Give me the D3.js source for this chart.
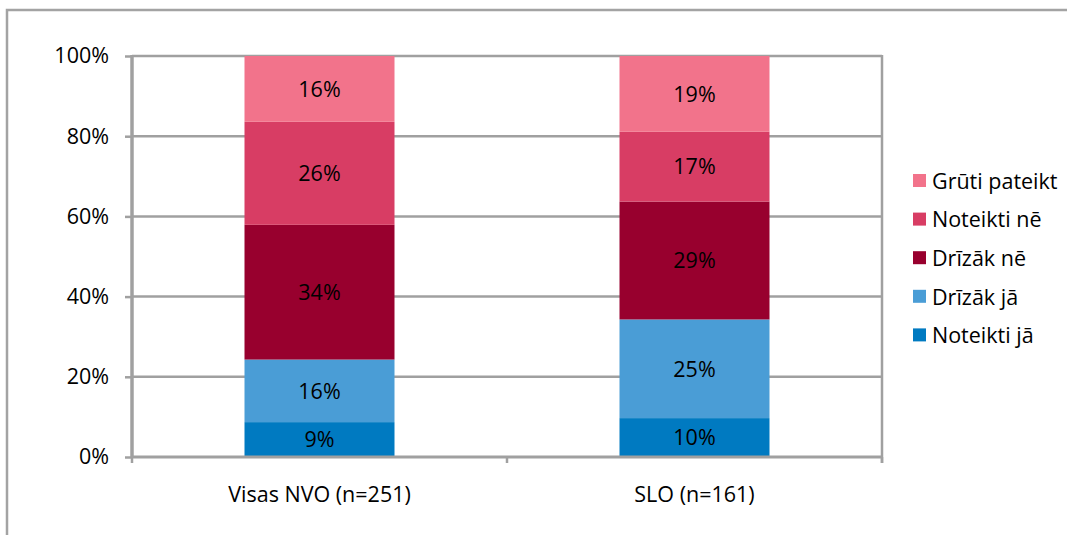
<!DOCTYPE html>
<html>
<head>
<meta charset="utf-8">
<script src="https://cdn.jsdelivr.net/npm/d3@7"></script>
<style>
  body { margin: 0; background: #fff; }
  svg text { font-family: "Open Sans", "Noto Sans", sans-serif; fill: #000; }
</style>
</head>
<body>
<div id="chart"></div>
<script>
// categories and series (percent, bottom to top)
var categories = ['Visas NVO (n=251)', 'SLO (n=161)'];
var seriesNames = ['Noteikti jā', 'Drīzāk jā', 'Drīzāk nē', 'Noteikti nē', 'Grūti pateikt'];
var noteiktiJa = [8.7, 9.7];
var drizakJa = [15.6, 24.6];
var drizakNe = [33.6, 29.4];
var noteiktiNe = [25.7, 17.4];
var grutiPateikt = [16.4, 18.9];
var yTicks = [0, 20, 40, 60, 80, 100];

var colors = ['#007ac1', '#4a9dd6', '#98002e', '#d83d64', '#f2738b'];
var seriesValues = [noteiktiJa, drizakJa, drizakNe, noteiktiNe, grutiPateikt];

var width = 1067,
    height = 535,
    plotLeft = 132, plotRight = 882, plotTop = 56, plotBottom = 457,
    fontSize = '21.5px';

var svg = d3.select('#chart').append('svg')
    .attr('width', width)
    .attr('height', height);

// outer chart frame (runs off the right and bottom edge)
svg.append('rect')
    .attr('x', 7).attr('y', 10)
    .attr('width', 1080).attr('height', 540)
    .attr('fill', 'none')
    .attr('stroke', '#a3a3a3')
    .attr('stroke-width', 2.5);

var x = d3.scaleBand()
    .domain(categories)
    .range([plotLeft, plotRight])
    .paddingInner(0.6)
    .paddingOuter(0.3);

var y = d3.scaleLinear()
    .domain([0, 100])
    .range([plotBottom, plotTop]);

// gridlines
svg.append('g')
    .selectAll('line')
    .data(yTicks.filter(function(d) { return d > 0; }))
    .enter()
    .append('line')
    .attr('x1', plotLeft).attr('x2', plotRight)
    .attr('y1', function(d) { return y(d); })
    .attr('y2', function(d) { return y(d); })
    .attr('stroke', '#a0a0a0')
    .attr('stroke-width', 2.5);

// right border of plot area
svg.append('line')
    .attr('x1', plotRight).attr('x2', plotRight)
    .attr('y1', plotTop - 1).attr('y2', plotBottom + 6)
    .attr('stroke', '#a0a0a0')
    .attr('stroke-width', 2.5);

// stacked data
var rows = categories.map(function(c, i) {
    var r = { cat: c };
    seriesNames.forEach(function(s, k) { r[s] = seriesValues[k][i]; });
    return r;
});
var stacked = d3.stack().keys(seriesNames)(rows);

var layers = svg.append('g')
    .selectAll('g')
    .data(stacked)
    .enter()
    .append('g')
    .attr('fill', function(d, i) { return colors[i]; });

layers.selectAll('rect')
    .data(function(d) { return d; })
    .enter()
    .append('rect')
    .attr('x', function(d) { return x(d.data.cat); })
    .attr('width', x.bandwidth())
    .attr('y', function(d) { return y(d[1]); })
    .attr('height', function(d) { return y(d[0]) - y(d[1]); });

layers.selectAll('text')
    .data(function(d) { return d; })
    .enter()
    .append('text')
    .attr('x', function(d) { return x(d.data.cat) + x.bandwidth() / 2; })
    .attr('y', function(d) { return (y(d[0]) + y(d[1])) / 2; })
    .attr('dy', '0.36em')
    .attr('text-anchor', 'middle')
    .style('font-size', fontSize)
    .text(function(d) { return Math.round(d[1] - d[0]) + '%'; });

// y axis
var yAxis = svg.append('g')
    .attr('transform', 'translate(' + plotLeft + ',0)')
    .call(d3.axisLeft(y).tickValues(yTicks).tickSize(7).tickPadding(16)
        .tickFormat(function(d) { return d + '%'; }));
yAxis.select('.domain').attr('stroke', '#a0a0a0').attr('stroke-width', 3.5)
    .attr('d', 'M0,' + (plotTop - 1) + 'V' + plotBottom);
yAxis.selectAll('.tick line').attr('stroke', '#a0a0a0').attr('stroke-width', 2.5);
yAxis.selectAll('.tick text').style('font-size', fontSize).attr('fill', '#000');

// x axis
var xAxis = svg.append('g')
    .attr('transform', 'translate(0,' + plotBottom + ')')
    .call(d3.axisBottom(x).tickSize(0).tickPadding(30));
xAxis.select('.domain').attr('stroke', '#a0a0a0').attr('stroke-width', 3)
    .attr('d', 'M' + plotLeft + ',0H' + plotRight);
xAxis.selectAll('.tick text').style('font-size', fontSize).attr('fill', '#000');

// category separators on x axis
var seps = [plotLeft, (x(categories[0]) + x.bandwidth() + x(categories[1])) / 2, plotRight];
xAxis.selectAll('line.sep')
    .data(seps)
    .enter()
    .append('line')
    .attr('class', 'sep')
    .attr('x1', function(d) { return d; })
    .attr('x2', function(d) { return d; })
    .attr('y1', 0).attr('y2', 6)
    .attr('stroke', '#a0a0a0')
    .attr('stroke-width', 2.5);

// legend (top item is last series)
var legend = svg.append('g')
    .attr('transform', 'translate(913,181)')
    .selectAll('g')
    .data(seriesNames.slice().reverse())
    .enter()
    .append('g')
    .attr('transform', function(d, i) { return 'translate(0,' + i * 38.6 + ')'; });

legend.append('rect')
    .attr('x', 0).attr('y', -7)
    .attr('width', 13).attr('height', 13)
    .attr('fill', function(d) { return colors[seriesNames.indexOf(d)]; });

legend.append('text')
    .attr('x', 19)
    .attr('y', 0)
    .attr('dy', '0.36em')
    .style('font-size', fontSize)
    .text(function(d) { return d; });
</script>
</body>
</html>
